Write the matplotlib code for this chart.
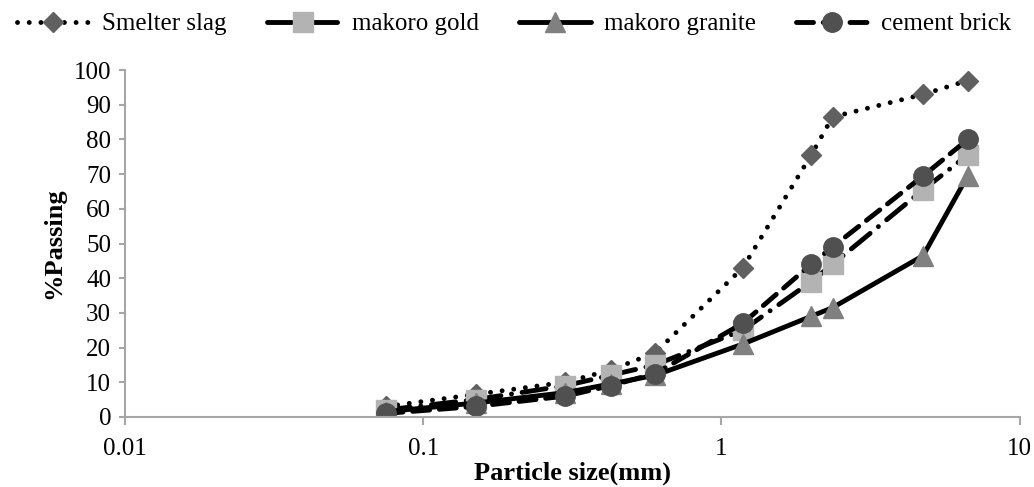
import numpy as np
import matplotlib.pyplot as plt

plt.rcParams['font.family'] = ['Liberation Serif', 'DejaVu Serif']

# sieve sizes (mm) and % passing for each material
sieve_mm = [0.075, 0.15, 0.3, 0.425, 0.6, 1.18, 2.0, 2.36, 4.75, 6.7]
smelter_slag = [3, 6.5, 10, 13.5, 18.5, 43, 75.5, 86.5, 93, 97]
makoro_gold = [2, 5, 9, 12, 15, 25, 39, 44, 65.5, 75.5]
makoro_granite = [1.5, 4, 7, 9.5, 12, 21, 29, 31.5, 46.5, 69.5]
cement_brick = [1, 3, 6, 9, 12.5, 27, 44, 49, 69.5, 80]

fig = plt.figure(figsize=(10.34, 4.87), dpi=100)
ax = fig.add_axes([0.121, 0.144, 0.865, 0.712])

lw = 3.5
ax.plot(sieve_mm, smelter_slag, color='black', lw=lw,
        linestyle=(0, (0.01, 2.4)), dash_capstyle='round',
        marker='D', ms=10.5, mfc='#606060', mec='#606060',
        label='Smelter slag')
ax.plot(sieve_mm, makoro_gold, color='black', lw=lw,
        linestyle=(0, (5, 2.2, 0.01, 2.2)), dash_capstyle='round',
        marker='s', ms=14, mfc='#b3b3b3', mec='#b3b3b3',
        label='makoro gold')
ax.plot(sieve_mm, makoro_granite, color='black', lw=lw, linestyle='-',
        solid_capstyle='round',
        marker='^', ms=14, mfc='#808080', mec='#808080',
        label='makoro granite')
ax.plot(sieve_mm, cement_brick, color='black', lw=lw,
        linestyle=(0, (3.5, 2)), dash_capstyle='round',
        marker='o', ms=14, mfc='#505050', mec='#505050',
        label='cement brick')

ax.set_xscale('log')
ax.set_xlim(0.01, 10)
ax.set_ylim(0, 100)
ax.set_yticks(np.arange(0, 101, 10))
ax.set_xticks([0.01, 0.1, 1, 10])
ax.set_xticklabels(['0.01', '0.1', '1', '10'])
ax.minorticks_off()

for s in ['top', 'right']:
    ax.spines[s].set_visible(False)
for s in ['left', 'bottom']:
    ax.spines[s].set_color('#a6a6a6')
    ax.spines[s].set_linewidth(1.5)
ax.tick_params(axis='both', colors='#a6a6a6', width=1.5, labelsize=18,
               labelcolor='black')
ax.tick_params(axis='y', length=4, pad=6)
ax.tick_params(axis='x', length=6, pad=9)

ax.set_xlabel('Particle size(mm)', fontsize=19, fontweight='bold', labelpad=1)
ax.set_ylabel('%Passing', fontsize=19, fontweight='bold', labelpad=6)

fig.legend(loc='upper center', bbox_to_anchor=(0.497, 1.02), ncol=4,
           frameon=False, fontsize=18, handlelength=2.9, columnspacing=1.6,
           handletextpad=0.5)

fig.savefig('out.png', dpi=100)
